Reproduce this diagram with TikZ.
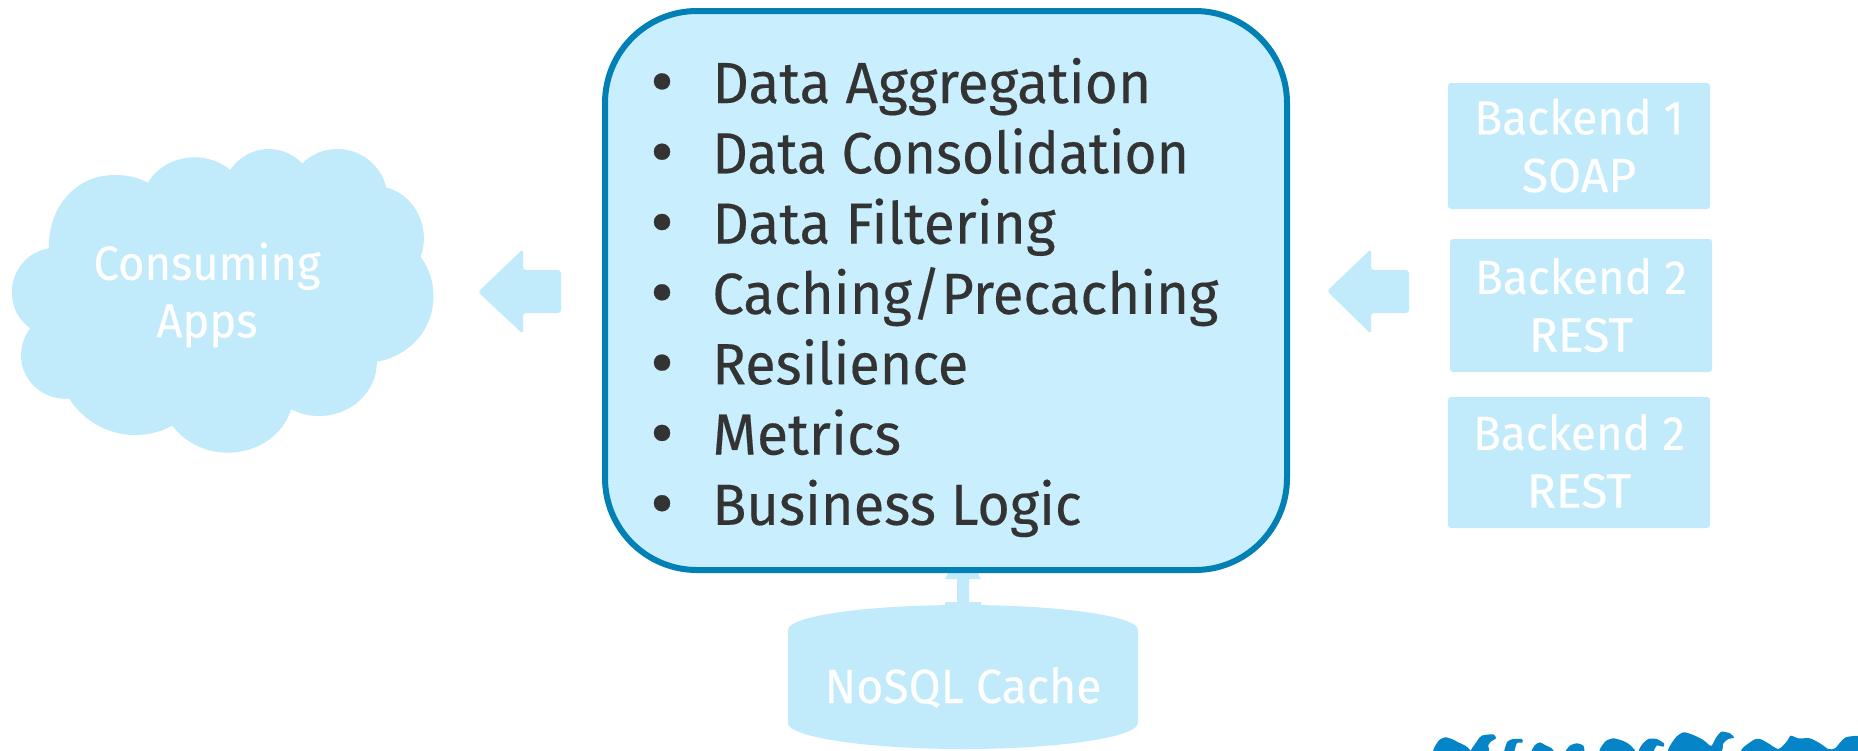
\documentclass[tikz,border=0pt]{standalone}
\usepackage{fontspec}
\setmainfont[FakeBold=0.25]{Fira Sans}
\definecolor{boxfill}{HTML}{C9EFFF}
\definecolor{boxline}{HTML}{0080B4}
\definecolor{pale}{HTML}{C1EBFB}
\definecolor{ink}{HTML}{333333}
\definecolor{camel}{HTML}{0585C8}
\tikzset{
  px/.style={x=0.5pt,y=-0.5pt},
  backend/.style={fill=pale,rounded corners=1.5pt,inner sep=0,minimum width=#1},
  backend/.default=131pt,
  paletext/.style={text=white,font=\fontsize{24}{28.8}\selectfont,align=center,inner sep=0},
  itemtext/.style={text=ink,font=\fontsize{29}{34}\selectfont,anchor=base west,inner sep=0},
  bulletmark/.style={text=ink,font=\fontsize{36}{40}\selectfont,anchor=base,inner sep=0},
  blockarrow/.style={fill=pale,rounded corners=1.5pt},
  camelshape/.style={fill=camel,draw=none}
}
\newcommand{\narrowed}[2]{\scalebox{#1}[1]{#2}}
\begin{document}
\begin{tikzpicture}[px]
\useasboundingbox (0,0) rectangle (1858,750);
% up connector between cache and main box
\fill[pale] (950,570)--(976,570)--(981,579)--(969,579)--(969,602)--(981,602)--(981,608)--(945,608)--(945,602)--(957,602)--(957,579)--(945,579)--cycle;
% main box
\node[draw=boxline,fill=boxfill,line width=3pt,rounded corners=46pt,minimum width=341pt,minimum height=279.5pt,inner sep=0] (main) at (946,290.5) {};
% list
\foreach \n/\t/\s [count=\i from 0] in {a/Data Aggregation/.981,b/Data Consolidation/.952,c/Data Filtering/.98,d/{Caching{/}Precaching}/.97,e/Resilience/.96,f/Metrics/.987,g/Business Logic/.965}{
  \pgfmathsetmacro\yy{103+70.3*\i}
  \pgfmathsetmacro\yb{\yy+3}
  \node[bulletmark] (bul\n) at (662,\yb) {•};
  \node[itemtext,xscale=\s] (item\n) at (712,\yy) {\t};
}
% cloud
\begin{scope}[shift={(0,130)},xscale=0.36990,yscale=1/3]
\fill[pale] (132,355)
 .. controls (130,230) and (205,135) .. (310,135)
 .. controls (345,135) and (375,143) .. (400,158)
 .. controls (425,110) and (475,82) .. (525,82)
 .. controls (562,82) and (597,95) .. (622,120)
 .. controls (645,82) and (685,57) .. (725,57)
 .. controls (760,57) and (792,72) .. (817,100)
 .. controls (842,73) and (875,57) .. (912,57)
 .. controls (975,57) and (1030,105) .. (1044,172)
 .. controls (1105,190) and (1146,255) .. (1146,325)
 .. controls (1146,345) and (1143,363) .. (1137,380)
 .. controls (1160,415) and (1172,455) .. (1172,500)
 .. controls (1172,597) and (1108,678) .. (1019,695)
 .. controls (1019,785) and (950,858) .. (862,858)
 .. controls (835,858) and (810,851) .. (787,838)
 .. controls (765,915) and (697,968) .. (615,968)
 .. controls (553,968) and (498,935) .. (466,887)
 .. controls (436,905) and (402,915) .. (365,915)
 .. controls (292,915) and (225,872) .. (187,806)
 .. controls (115,812) and (57,750) .. (57,677)
 .. controls (57,645) and (66,617) .. (82,595)
 .. controls (50,570) and (32,530) .. (32,487)
 .. controls (32,420) and (75,365) .. (132,355) -- cycle;
\end{scope}
\node[paletext] (apps) at (207,295) {\narrowed{.945}{Consuming}\\\narrowed{.945}{Apps}};
% block arrows
\fill[blockarrow] (478,292)--(523,249)--(523,270)--(561,270)--(561,313)--(523,313)--(523,334)--cycle;
\fill[blockarrow] (1327,291)--(1371,249)--(1371,270)--(1409,270)--(1409,313)--(1371,313)--(1371,334)--cycle;
% backends
\node[backend,minimum height=63pt] (b1) at (1579,146) {};
\node[backend,minimum height=66.5pt] (b2) at (1581,305.5) {};
\node[backend,minimum height=65.5pt] (b3) at (1579,462.5) {};
\node[paletext] (t1) at (1579,145.5) {\narrowed{.956}{Backend 1}\\SOAP};
\node[paletext] (t2) at (1581,305) {\narrowed{.956}{Backend 2}\\REST};
\node[paletext] (t3) at (1579,461) {\narrowed{.956}{Backend 2}\\REST};
% cache
\fill[pale] (788,630) .. controls (788,616) and (866,605) .. (963,605) .. controls (1060,605) and (1138,616) .. (1138,630) -- (1138,723) .. controls (1138,737) and (1060,749) .. (963,749) .. controls (866,749) and (788,737) .. (788,723) -- cycle;
\node[paletext,anchor=base] (cache) at (963,703) {\narrowed{.966}{NoSQL Cache}};
% camels, cut by the page edge
\begin{scope}[shift={(1420,725)},scale=1/3]
\fill[camelshape] plot[smooth cycle,tension=.4] coordinates {(42,85)(55,48)(75,37)(95,42)(115,52)(140,65)(150,85)};
\fill[camelshape] plot[smooth cycle,tension=.4] coordinates {(150,85)(170,50)(185,32)(220,28)(228,40)(215,48)(205,60)(205,85)};
\fill[camelshape] plot[smooth cycle,tension=.4] coordinates {(252,85)(262,50)(280,42)(305,42)(308,52)(290,55)(280,85)};
\fill[camelshape] plot[smooth cycle,tension=.4] coordinates {(335,85)(345,60)(360,52)(375,60)(395,70)(400,85)};
\fill[camelshape] plot[smooth cycle,tension=.4] coordinates {(435,85)(450,62)(470,55)(490,62)(490,85)};
\fill[camelshape] plot[smooth cycle,tension=.4] coordinates {(540,85)(555,50)(580,40)(610,48)(630,60)(645,85)};
\end{scope}
\begin{scope}[shift={(1640,725)},scale=1/3]
\fill[camelshape] plot[smooth cycle,tension=.4] coordinates {(-5,85)(5,60)(25,42)(50,42)(72,55)(70,65)(50,62)(35,85)};
\fill[camelshape] plot[smooth cycle,tension=.4] coordinates {(88,85)(105,40)(130,22)(160,30)(190,45)(205,58)(215,62)(230,35)(245,20)(270,25)(282,38)(265,42)(250,55)(235,85)};
\fill[camelshape] plot[smooth cycle,tension=.4] coordinates {(315,85)(340,45)(360,42)(385,55)(415,72)(440,50)(452,32)(475,40)(510,40)(540,55)(565,72)(585,70)(615,38)(660,35)(660,85)};
\end{scope}
\end{tikzpicture}
\end{document}
